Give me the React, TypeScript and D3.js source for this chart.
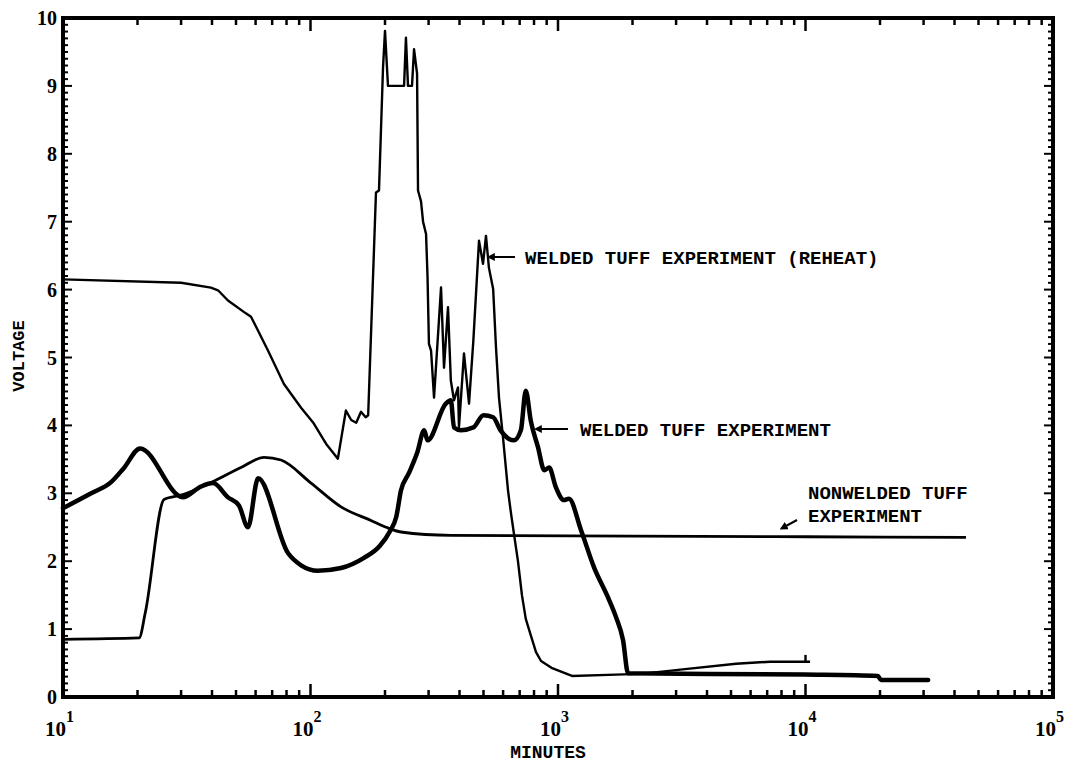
import React from "react";
import * as d3 from "d3";

const W = 1066;
const H = 766;
const plot = { left: 63, right: 1053, top: 18, bottom: 697 };

// tick labels
const decadeExponents = [1, 2, 3, 4, 5];
const voltLabels = [0, 1, 2, 3, 4, 5, 6, 7, 8, 9, 10];

// WELDED TUFF EXPERIMENT (REHEAT) - thin line
const reheatMinutes = [
  10, 30, 39.6, 42.3, 46.4, 54.8, 57.5, 67.4, 78.1, 91.6, 103, 115.5, 129,
  139, 146, 153, 160, 167, 171, 183.9, 189.1, 196.3, 200, 205.6, 238.8, 243,
  247.7, 257.1, 262, 269.5, 271.9, 279.6, 285, 293, 297, 301, 307, 315.6,
  336.8, 346.3, 359.4, 369, 380, 394.5, 398, 417, 437, 455, 479.5, 497.7,
  511.7, 526, 547, 561.6, 577.5, 599.6, 628.2, 646, 664, 689, 715, 741, 776,
  815, 854, 941, 1139, 1714, 2165, 3260, 5240, 7190, 10430,
];
const reheatVolts = [
  6.15, 6.1, 6.03, 5.99, 5.84, 5.65, 5.6, 5.1, 4.61, 4.26, 4.03, 3.73, 3.51,
  4.22, 4.08, 4.04, 4.2, 4.12, 4.15, 7.43, 7.46, 9.26, 9.81, 9.0, 9.0, 9.71,
  9.0, 9.0, 9.54, 9.18, 7.46, 7.3, 7.0, 6.82, 6.2, 5.2, 5.1, 4.41,
  6.03, 4.85, 5.74, 4.66, 4.37, 4.56, 3.97, 5.06, 4.32, 5.25, 6.72, 6.38,
  6.79, 6.32, 6.01, 5.15, 4.41, 3.82, 3.04, 2.7, 2.4, 2.0, 1.5, 1.15, 0.91,
  0.66, 0.53, 0.43, 0.31, 0.33, 0.34, 0.41, 0.49, 0.52, 0.52,
];

// WELDED TUFF EXPERIMENT - thick line
const weldedMinutes = [
  10, 13, 15.6, 17.6, 20.5, 30.5, 36.1, 40.4, 46.4, 51.4, 55.9, 61.4, 81.1,
  91.6, 107, 132.8, 164.5, 190, 210, 222, 232, 250, 270, 288, 297, 352, 369,
  380, 405, 455, 500, 547, 585, 628, 664, 708, 741, 776, 830, 880, 921, 980,
  1057, 1107, 1238, 1398, 1591, 1714, 1831, 1919, 9860, 19600, 20180, 31300,
];
const weldedVolts = [
  2.78, 3.0, 3.16, 3.37, 3.66, 2.94, 3.1, 3.15, 2.94, 2.82, 2.5, 3.22, 2.12,
  1.94, 1.86, 1.9, 2.05, 2.22, 2.45, 2.65, 3.04, 3.3, 3.6, 3.93, 3.78, 4.32,
  4.37, 3.97, 3.93, 3.97, 4.15, 4.12, 3.93, 3.81, 3.78, 3.93, 4.51, 4.07,
  3.68, 3.34, 3.38, 3.09, 2.9, 2.92, 2.46, 1.91, 1.47, 1.18, 0.84, 0.35,
  0.33, 0.31, 0.25, 0.25,
];

// NONWELDED TUFF EXPERIMENT
const nonweldedMinutes = [
  10, 20.3, 21.5, 25.6, 30.5, 39.6, 52.4, 64.9, 76, 100.5, 132.8, 175.5, 202,
  232, 369, 2000, 10000, 44500,
];
const nonweldedVolts = [
  0.85, 0.87, 1.24, 2.91, 2.98, 3.16, 3.38, 3.53, 3.49, 3.15, 2.8, 2.6, 2.5,
  2.43, 2.38, 2.37, 2.36, 2.35,
];

const x = d3.scaleLog().domain([10, 1e5]).range([plot.left, plot.right]);
const y = d3.scaleLinear().domain([0, 10]).range([plot.bottom, plot.top]);

const mono = "'Liberation Mono', 'DejaVu Sans Mono', monospace";
const serif = "'Liberation Serif', 'DejaVu Serif', serif";

function linePath(xs: number[], ys: number[], curve: d3.CurveFactory) {
  const pts: [number, number][] = xs.map((d, i) => [d, ys[i]]);
  return d3
    .line<[number, number]>()
    .x((d) => x(d[0]))
    .y((d) => y(d[1]))
    .curve(curve)(pts) as string;
}

export default function App() {
  const xTicks = x.ticks();
  const yMinor = d3.range(0, 101).map((d) => d / 10);

  return (
    <svg
      width={W}
      height={H}
      style={{ position: "absolute", left: 0, top: 0, background: "#fff" }}
    >
      <defs>
        <marker
          id="head"
          viewBox="0 0 10 10"
          refX="1"
          refY="5"
          markerWidth="4"
          markerHeight="4"
          orient="auto-start-reverse"
        >
          <path d="M0,0 L10,5 L0,10 z" fill="#000" />
        </marker>
      </defs>

      {/* frame */}
      <rect
        x={plot.left}
        y={plot.top}
        width={plot.right - plot.left}
        height={plot.bottom - plot.top}
        fill="none"
        stroke="#000"
        strokeWidth={4}
      />

      {/* x ticks, bottom and top, inward */}
      {xTicks.map((t, i) => {
        const major = Math.abs(Math.log10(t) - Math.round(Math.log10(t))) < 1e-9;
        const len = major ? 13 : 7;
        return (
          <g key={"xt" + i} stroke="#000" strokeWidth={2.5}>
            <line x1={x(t)} x2={x(t)} y1={plot.bottom} y2={plot.bottom - len} />
            <line x1={x(t)} x2={x(t)} y1={plot.top} y2={plot.top + len} />
          </g>
        );
      })}

      {/* y ticks, left and right, inward */}
      {yMinor.map((v, i) => {
        const major = i % 10 === 0;
        const len = major ? 9 : 5;
        return (
          <g key={"yt" + i} stroke="#000" strokeWidth={2}>
            <line x1={plot.left} x2={plot.left + len} y1={y(v)} y2={y(v)} />
            <line x1={plot.right} x2={plot.right - len} y1={y(v)} y2={y(v)} />
          </g>
        );
      })}

      {/* y labels */}
      {voltLabels.map((v) => (
        <text
          key={"yl" + v}
          x={plot.left - 6}
          y={y(v)}
          dy="0.35em"
          textAnchor="end"
          fontFamily={serif}
          fontWeight="bold"
          fontSize={20}
        >
          {v}
        </text>
      ))}

      {/* x labels */}
      {decadeExponents.map((e) => (
        <text
          key={"xl" + e}
          x={x(Math.pow(10, e)) + 3}
          y={736}
          textAnchor="end"
          fontFamily={serif}
          fontWeight="bold"
          fontSize={21}
        >
          10
        </text>
      ))}
      {decadeExponents.map((e) => (
        <text
          key={"xe" + e}
          x={x(Math.pow(10, e)) + 3}
          y={722}
          fontFamily={serif}
          fontWeight="bold"
          fontSize={16}
        >
          {e}
        </text>
      ))}

      {/* axis titles */}
      <text
        x={548}
        y={758}
        textAnchor="middle"
        fontFamily={mono}
        fontWeight="bold"
        fontSize={18}
      >
        MINUTES
      </text>
      <text
        transform="translate(24,356) rotate(-90)"
        textAnchor="middle"
        fontFamily={mono}
        fontWeight="bold"
        fontSize={17}
      >
        VOLTAGE
      </text>

      {/* data lines */}
      <path
        d={linePath(nonweldedMinutes, nonweldedVolts, d3.curveMonotoneX)}
        fill="none"
        stroke="#000"
        strokeWidth={2.8}
        strokeLinejoin="round"
      />
      <path
        d={linePath(reheatMinutes, reheatVolts, d3.curveLinear)}
        fill="none"
        stroke="#000"
        strokeWidth={2.4}
        strokeLinejoin="round"
      />
      <path
        d={linePath([10000, 10000], [0.52, 0.62], d3.curveLinear)}
        fill="none"
        stroke="#000"
        strokeWidth={2.4}
      />
      <path
        d={linePath(weldedMinutes, weldedVolts, d3.curveMonotoneX)}
        fill="none"
        stroke="#000"
        strokeWidth={4.5}
        strokeLinejoin="round"
        strokeLinecap="round"
      />

      {/* annotations */}
      <line x1={515} y1={257} x2={494} y2={257} stroke="#000" strokeWidth={2} markerEnd="url(#head)" />
      <text x={525} y={257} dy="0.35em" fontFamily={mono} fontWeight="bold" fontSize={19}>
        WELDED TUFF EXPERIMENT (REHEAT)
      </text>
      <line x1={568} y1={429} x2={541} y2={429} stroke="#000" strokeWidth={2} markerEnd="url(#head)" />
      <text x={580} y={429} dy="0.35em" fontFamily={mono} fontWeight="bold" fontSize={19}>
        WELDED TUFF EXPERIMENT
      </text>
      <line x1={797} y1={520} x2={786} y2={526} stroke="#000" strokeWidth={2} markerEnd="url(#head)" />
      <text x={808} y={492} dy="0.35em" fontFamily={mono} fontWeight="bold" fontSize={19}>
        NONWELDED TUFF
      </text>
      <text x={808} y={515} dy="0.35em" fontFamily={mono} fontWeight="bold" fontSize={19}>
        EXPERIMENT
      </text>
    </svg>
  );
}
